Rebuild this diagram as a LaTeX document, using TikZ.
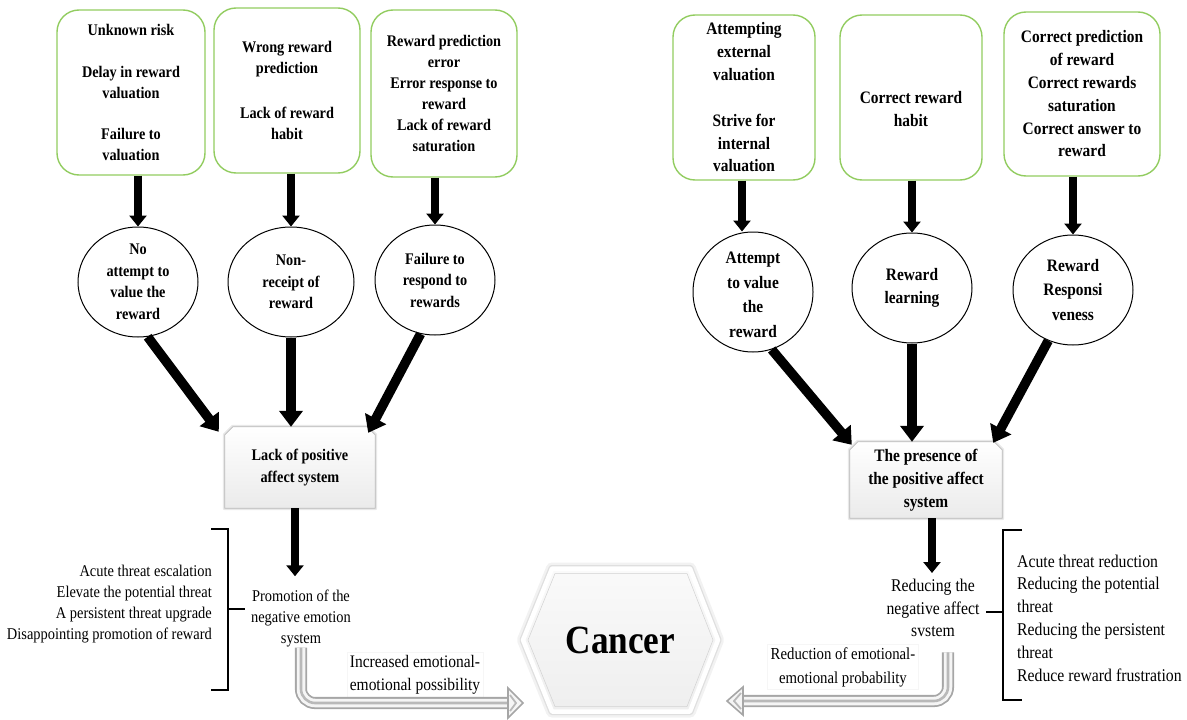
\documentclass[tikz,border=0pt]{standalone}
\usepackage{fontspec}
\setmainfont{Liberation Serif}[FakeStretch=0.88]
\usepackage{graphicx}
\usetikzlibrary{arrows.meta,shapes.geometric,calc,backgrounds}
\definecolor{boxgreen}{RGB}{146,204,96}
\newcommand\fLB{\fontsize{16.2}{21.5}\selectfont\bfseries}
\newcommand\fRB{\fontsize{17.5}{22.8}\selectfont\bfseries}
\newcommand\fRBc{\fontsize{17.5}{24.5}\selectfont\bfseries}
\newcommand\fLR{\fontsize{16.4}{21}\selectfont}
\newcommand\fRR{\fontsize{17.9}{22.8}\selectfont}
\newcommand\fLab{\fontsize{17.6}{23}\selectfont}
\newcommand\fRab{\fontsize{16.8}{24}\selectfont}
\begin{document}
\begin{tikzpicture}[x=1pt,y=-1pt,
 topbox/.style={draw=boxgreen, line width=1.4pt, rounded corners=22pt, align=center, inner sep=2pt},
 circ/.style={ellipse, draw, line width=1pt, inner sep=0pt},
 ctext/.style={align=center, inner sep=0pt},
 varr/.style={line width=7.5pt, -{Triangle[width=17pt,length=11pt]}},
 darr/.style={line width=9.5pt, -{Triangle[width=23pt,length=16pt]}},
 mbox/.style={rectangle, align=center, inner sep=0pt},
 plain/.style={align=center, inner sep=1pt},
 lab/.style={align=center, inner sep=3pt, fill=white, draw=gray!7, line width=0.5pt},
 brk/.style={line width=1.4pt},
 hshaft/.style={draw=gray!70, line width=1.8pt, double=gray!8, double distance=8.5pt, rounded corners=14pt},
 hcore/.style={draw=gray!55, line width=2.6pt, rounded corners=14pt},
 hhead/.style={draw=gray!70, line width=1.6pt, fill=gray!8, line join=miter},
 hheadin/.style={draw=gray!55, line width=1.8pt, line join=miter},
]
\useasboundingbox (0,0) rectangle (1187,720);

% ---------- top boxes ----------
\node[topbox, minimum width=148pt, minimum height=165pt, font=\fLB] (b1) at (131,92.5)
  {Unknown risk\\[20pt]Delay in reward\\valuation\\[19pt]Failure to\\valuation};
\node[topbox, minimum width=146pt, minimum height=165pt, font=\fLB] (b2) at (287,90.5)
  {Wrong reward\\prediction\\[23pt]Lack of reward\\habit};
\node[topbox, minimum width=146pt, minimum height=167pt, font=\fontsize{16.2}{21}\selectfont\bfseries] (b3) at (444,93.5)
  {Reward prediction\\error\\Error response to\\reward\\Lack of reward\\saturation};
\node[topbox, minimum width=142pt, minimum height=165pt, font=\fRB] (b4) at (744,97.5)
  {Attempting\\external\\valuation\\[23pt]Strive for\\internal\\valuation};
\node[topbox, minimum width=142pt, minimum height=165pt,
  label={[font=\fRB, align=center, yshift=-11.5pt]center:{Correct reward\\habit}}] (b5) at (911,97.5) {};
\node[topbox, minimum width=156pt, minimum height=164pt, font=\fRB] (b6) at (1082,94)
  {Correct prediction\\of reward\\Correct rewards\\saturation\\Correct answer to\\reward};

% ---------- ellipses ----------
\node[circ, minimum width=120pt, minimum height=110pt] (c1) at (138,282) {};
\node[circ, minimum width=126pt, minimum height=110pt] (c2) at (291,282) {};
\node[circ, minimum width=120pt, minimum height=110pt] (c3) at (435,280) {};
\node[circ, minimum width=120pt, minimum height=120pt] (c4) at (753,292) {};
\node[circ, minimum width=120pt, minimum height=110pt] (c5) at (912,288) {};
\node[circ, minimum width=120pt, minimum height=110pt] (c6) at (1073,290) {};
\node[ctext, font=\fLB] (c1t) at (c1) {No\\attempt to\\value the\\reward};
\node[ctext, font=\fLB] (c2t) at (c2) {Non-\\receipt of\\reward};
\node[ctext, font=\fLB] (c3t) at (c3) {Failure to\\respond to\\rewards};
\node[ctext, font=\fRBc] (c4t) at ([yshift=-3pt]c4) {Attempt\\to value\\the\\reward};
\node[ctext, font=\fRB] (c5t) at (c5) {Reward\\learning};
\node[ctext, font=\fRBc] (c6t) at (c6) {Reward\\Responsi\\veness};

% ---------- middle boxes ----------
\node[mbox, minimum width=150pt, minimum height=81pt, font=\fLB] (lbox) at (300,467.5) {Lack of positive\\affect system};
\node[mbox, minimum width=152pt, minimum height=76pt, font=\fRB] (rbox) at (926,480) {The presence of\\the positive affect\\system};

\begin{scope}[on background layer]
 \foreach \B in {lbox,rbox}{
  \draw[gray!18, line width=4pt, line join=round]
   ($(\B.north west)+(8,0)$) -- ($(\B.north east)+(-8,0)$) -- ($(\B.north east)+(0,8)$) --
   (\B.south east) -- (\B.south west) -- ($(\B.north west)+(0,8)$) -- cycle;
  \path[top color=white, bottom color=gray!16, draw=gray!55, line width=0.8pt]
   ($(\B.north west)+(8,0)$) -- ($(\B.north east)+(-8,0)$) -- ($(\B.north east)+(0,8)$) --
   (\B.south east) -- (\B.south west) -- ($(\B.north west)+(0,8)$) -- cycle;
 }
\end{scope}

% ---------- arrows top -> ellipses ----------
\draw[varr] (c1.north |- b1.south) -- (c1.north);
\draw[varr] (c2.north |- b2.south) -- (c2.north);
\draw[varr] (c3.north |- b3.south) -- (c3.north);
\draw[varr] ([xshift=-2pt]b4.south) -- ([xshift=-2pt]b4.south |- c4.north);
\draw[varr] (c5.north |- b5.south) -- (c5.north);
\draw[varr] (c6.north |- b6.south) -- (c6.north);

% ---------- arrows ellipses -> middle boxes ----------
\draw[darr] (c1.-80) -- ($(lbox.north west)+(-6,5)$);
\draw[darr] (c2.south) -- (c2.south |- lbox.north);
\draw[darr] (c3.-105) -- ($(lbox.north east)+(-7,6)$);
\draw[darr] (c4.-72) -- ($(rbox.north west)+(2,3)$);
\draw[darr] (c5.south) -- (c5.south |- rbox.north);
\draw[darr] (c6.-116) -- ($(rbox.north east)+(-9,1)$);

% ---------- lower texts ----------
\node[plain, font=\fLR] (lneg) at (301,618) {Promotion of the\\negative emotion\\system};
\node[plain, font=\fRR] (rneg) at (933,608) {Reducing the\\negative affect\\svstem};
\draw[varr, line width=7.5pt, shorten >=12pt] (lbox.south -| 295,0) -- (lneg.north -| 295,0);
\draw[varr, line width=7.5pt] (rbox.south -| 932,0) -- (932,573);

\node[plain, font=\fLR, align=right, anchor=east] (lthr) at (213,604)
  {Acute threat escalation\\Elevate the potential threat\\A persistent threat upgrade\\Disappointing promotion of reward};
\node[plain, font=\fRR, align=left, anchor=west] (rthr) at (1016,618)
  {Acute threat reduction\\Reducing the potential\\threat\\Reducing the persistent\\threat\\Reduce reward frustration};

% brackets
\draw[brk] (211,529) -- (228,529) -- (228,690) -- (211,690);
\draw[brk] (228,609) -- (245,609);
\draw[brk] (1022,530) -- (1003,530) -- (1003,700) -- (1022,700);
\draw[brk] (1003,612) -- (986,612);

% labels
\node[lab, font=\fLab] (llab) at (415,675) {Increased emotional-\\emotional possibility};
\node[lab, font=\fRab] (rlab) at (843,667) {Reduction of emotional-\\emotional probability};

% ---------- cancer hexagon ----------
\node[inner sep=0pt, font=\fontsize{40}{40}\selectfont\bfseries] (cancer) at (620.5,640) {Cancer};
\coordinate (h1) at ($(cancer)+(-97.5,0)$);
\coordinate (h2) at ($(cancer)+(-68.5,-71.5)$);
\coordinate (h3) at ($(cancer)+(69.5,-71.5)$);
\coordinate (h4) at ($(cancer)+(97.5,0)$);
\coordinate (h5) at ($(cancer)+(69.5,71.5)$);
\coordinate (h6) at ($(cancer)+(-68.5,71.5)$);
\begin{scope}[on background layer]
 \draw[gray!10, line width=12pt, line join=round] (h1) -- (h2) -- (h3) -- (h4) -- (h5) -- (h6) -- cycle;
 \draw[gray!25, line width=7pt, line join=round] (h1) -- (h2) -- (h3) -- (h4) -- (h5) -- (h6) -- cycle;
 \path[top color=gray!4, bottom color=gray!13, draw=white, line width=4.5pt, line join=round]
   (h1) -- (h2) -- (h3) -- (h4) -- (h5) -- (h6) -- cycle;
 \draw[gray!35, line width=0.5pt] ($(h1)+(5,0)$) -- ($(h2)+(3,5)$) -- ($(h3)+(-3,5)$) -- ($(h4)+(-5,0)$) -- ($(h5)+(-3,-5)$) -- ($(h6)+(3,-5)$) -- cycle;
\end{scope}

% ---------- hollow arrows ----------
\coordinate (lhb) at (508,703);
\coordinate (ltip) at (523,703);
\draw[hshaft] (lneg.south) |- (lhb);
\draw[hcore] (lneg.south) |- (lhb);
\draw[hhead] ($(lhb)+(0,-15)$) -- (ltip) -- ($(lhb)+(0,15)$) -- cycle;
\draw[hheadin] ($(lhb)+(2,-8)$) -- ($(ltip)+(-7,0)$) -- ($(lhb)+(2,8)$);

\coordinate (rhb) at (743,701);
\coordinate (rtip) at (727,701);
\draw[hshaft, shorten <=14pt] ($(rneg.south)+(15,0)$) |- (rhb);
\draw[hcore, shorten <=14pt] ($(rneg.south)+(15,0)$) |- (rhb);
\draw[hhead] ($(rhb)+(0,-14)$) -- (rtip) -- ($(rhb)+(0,14)$) -- cycle;
\draw[hheadin] ($(rhb)+(-2,-8)$) -- ($(rtip)+(7,0)$) -- ($(rhb)+(-2,8)$);
\end{tikzpicture}
\end{document}
